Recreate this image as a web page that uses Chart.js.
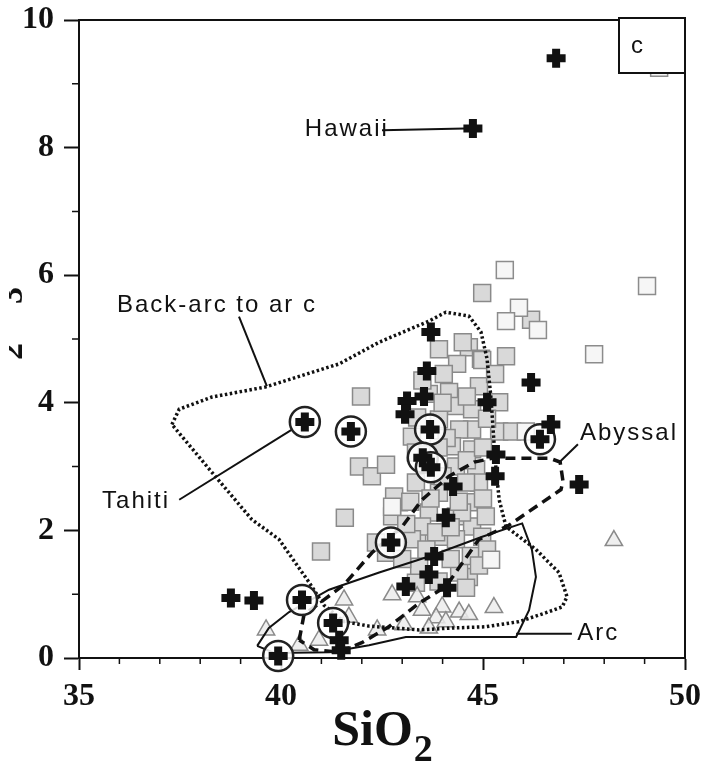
<!DOCTYPE html>
<html>
<head>
<meta charset="utf-8">
<script src="https://cdn.jsdelivr.net/npm/chart.js@4.4.1/dist/chart.umd.min.js"></script>
<style>
  html, body { margin: 0; padding: 0; background: #fff; }
  #wrap { width: 707px; height: 767px; }
</style>
</head>
<body>
<div id="wrap"><canvas id="chart" width="707" height="767"></canvas></div>
<script>
// SiO2 vs Al2O3 (wt%)

// black crosses
const crosses = [
  [46.81, 9.40], [44.75, 8.30], [43.71, 5.11], [43.61, 4.50], [43.12, 4.03],
  [43.54, 4.10], [43.07, 3.82], [45.10, 4.01], [46.19, 4.32], [46.68, 3.66],
  [45.32, 3.19], [45.30, 2.85], [44.26, 2.69], [44.08, 2.20], [47.38, 2.72],
  [43.79, 1.59], [43.66, 1.31], [43.09, 1.12], [44.11, 1.10], [38.76, 0.94],
  [39.33, 0.90], [41.44, 0.28], [41.49, 0.12]
];

// crosses with a ring round them
const circledCrosses = [
  [40.59, 3.70], [41.73, 3.55], [43.69, 3.58], [43.51, 3.14], [43.71, 2.99],
  [46.41, 3.43], [42.72, 1.81], [40.52, 0.91], [41.29, 0.55], [39.93, 0.03]
];

// grey filled squares
const greySquares = [
  [44.98, 5.72], [44.65, 4.87], [44.36, 4.61], [44.95, 4.69], [45.57, 4.73],
  [44.16, 4.17], [44.90, 4.26], [45.40, 4.01], [44.33, 3.95], [44.73, 3.90],
  [44.73, 3.58], [45.40, 3.55], [45.72, 3.55], [43.24, 3.47], [44.41, 3.58],
  [44.23, 3.32], [44.73, 3.27], [44.83, 2.96], [44.33, 3.00], [44.90, 2.75],
  [43.34, 3.22], [44.58, 2.75], [43.34, 2.75], [43.91, 2.59], [44.65, 2.44],
  [43.66, 2.28], [44.33, 2.22], [43.37, 1.93], [43.99, 1.90], [44.73, 2.06],
  [45.07, 2.22], [42.92, 2.44], [42.75, 2.22], [43.49, 2.06], [43.84, 1.97],
  [44.48, 2.28], [43.24, 1.86], [44.33, 1.86], [44.98, 1.90], [44.65, 1.27],
  [43.42, 1.43], [44.41, 1.34], [43.34, 1.18], [44.58, 1.10], [42.35, 1.81],
  [41.98, 4.10], [41.93, 3.00], [42.25, 2.85], [42.60, 3.03], [42.80, 2.53],
  [46.19, 5.30], [44.98, 4.67], [43.91, 4.84], [44.03, 4.45], [43.66, 4.14],
  [43.91, 3.74], [43.37, 3.77], [43.61, 3.19], [41.58, 2.20], [40.99, 1.67],
  [43.50, 4.35], [44.00, 4.00], [44.60, 4.10], [45.10, 3.75], [44.10, 3.45],
  [43.90, 3.30], [44.60, 3.10], [45.00, 3.30], [44.00, 2.85], [44.40, 2.45],
  [43.70, 2.50], [45.00, 2.50], [44.20, 2.05], [43.20, 2.45], [43.60, 1.70],
  [44.70, 1.60], [44.20, 1.55], [45.10, 1.70], [43.90, 1.20], [44.90, 1.45],
  [44.50, 4.95], [45.30, 4.45], [43.10, 2.10], [42.60, 1.65], [43.00, 1.55]
];

// open squares (white, dotted edge)
const openSquares = [
  [45.54, 6.08], [45.89, 5.49], [45.57, 5.28], [46.36, 5.14], [47.75, 4.76],
  [49.06, 5.83], [46.06, 3.55], [49.36, 9.25], [45.20, 1.54], [42.75, 2.37]
];

// open triangles
const triangles = [
  [48.24, 1.84], [45.27, 0.79], [42.75, 0.99], [41.56, 0.91], [41.68, 0.64],
  [40.94, 0.28], [42.38, 0.44], [43.37, 0.96], [43.49, 0.75], [43.99, 0.80],
  [44.41, 0.72], [44.65, 0.68], [43.84, 0.63], [44.08, 0.57], [43.04, 0.52],
  [43.66, 0.47], [39.63, 0.44], [40.45, 0.20]
];

// field outlines
const backArcField = [
  [37.30, 3.66], [37.48, 3.90], [38.29, 4.09], [39.63, 4.25], [41.44, 4.61],
  [42.43, 4.95], [43.66, 5.28], [44.08, 5.42], [44.65, 5.36], [44.95, 5.11],
  [45.10, 4.69], [45.20, 4.06], [45.30, 3.11], [45.40, 2.48], [45.57, 2.06],
  [46.31, 1.70], [46.88, 1.34], [47.08, 0.96], [46.96, 0.80], [46.56, 0.71],
  [45.89, 0.57], [45.07, 0.49], [44.23, 0.47], [43.42, 0.44], [42.18, 0.50],
  [41.56, 0.57], [41.06, 0.83], [40.69, 1.19], [39.95, 1.86], [39.28, 2.17],
  [38.29, 2.91], [37.30, 3.66]
];
const abyssalField = [
  [40.45, 0.28], [40.57, 0.68], [41.06, 0.91], [41.56, 1.15], [42.25, 1.65],
  [43.00, 2.06], [43.49, 2.48], [44.16, 2.85], [44.78, 3.07], [45.22, 3.13],
  [46.66, 3.13], [46.91, 3.07], [46.98, 2.77], [46.93, 2.64], [45.64, 2.08],
  [44.90, 1.86], [44.08, 1.12], [43.42, 0.86], [42.67, 0.49], [42.00, 0.24],
  [41.44, 0.09], [40.82, 0.13], [40.45, 0.28]
];
const arcField = [
  [39.41, 0.19], [39.70, 0.47], [40.20, 0.72], [41.19, 1.07], [42.43, 1.34],
  [43.66, 1.59], [44.98, 1.90], [45.97, 2.11], [46.21, 1.70], [46.31, 1.27],
  [46.14, 0.75], [45.82, 0.33], [43.09, 0.33], [42.18, 0.20], [41.19, 0.09],
  [39.83, 0.08], [39.41, 0.19]
];

// label leader lines
const leaderLines = [
  [[42.50, 8.27], [44.55, 8.30]],
  [[38.96, 5.35], [39.65, 4.26]],
  [[37.48, 2.48], [40.27, 3.58]],
  [[46.91, 3.08], [47.35, 3.35]],
  [[45.82, 0.38], [47.20, 0.38]]
];

// field / locality names, anchored at left-middle
const fieldLabels = [
  { text: 'Hawaii', x: 40.59, y: 8.29 },
  { text: 'Back-arc to ar c', x: 35.94, y: 5.52 },
  { text: 'Tahiti', x: 35.57, y: 2.45 },
  { text: 'Abyssal', x: 47.40, y: 3.52 },
  { text: 'Arc', x: 47.33, y: 0.38 }
];

const xMajor = 5;
const yMajor = 2;

const toXY = pts => pts.map(([x, y]) => ({ x, y }));

function outline(data, width, dash) {
  return {
    data: toXY(data), showLine: true, pointRadius: 0, fill: false,
    borderColor: '#111', borderWidth: width, borderDash: dash, clip: false
  };
}

// frame, panel box, minor ticks, axis titles and labels
const decor = {
  id: 'decor',
  afterDraw(chart) {
    const { ctx, chartArea: a, scales: { x, y } } = chart;
    ctx.save();

    // top and right frame
    ctx.strokeStyle = '#111';
    ctx.lineWidth = 2;
    ctx.beginPath();
    ctx.moveTo(a.left, a.top);
    ctx.lineTo(a.right, a.top);
    ctx.lineTo(a.right, a.bottom);
    ctx.stroke();

    // minor ticks
    ctx.lineWidth = 1.5;
    ctx.beginPath();
    for (let v = 36; v < 50; v++) {
      if (v % xMajor === 0) continue;
      const px = x.getPixelForValue(v);
      ctx.moveTo(px, a.bottom);
      ctx.lineTo(px, a.bottom + 6);
    }
    for (let v = 1; v < 10; v += 2) {
      const py = y.getPixelForValue(v);
      ctx.moveTo(a.left - 7, py);
      ctx.lineTo(a.left, py);
    }
    ctx.stroke();

    // panel letter box
    ctx.fillStyle = '#fff';
    ctx.lineWidth = 2;
    ctx.fillRect(a.right - 66, a.top - 2, 66, 55);
    ctx.strokeRect(a.right - 66, a.top - 2, 66, 55);
    ctx.fillStyle = '#111';
    ctx.font = '24px "Liberation Sans"';
    ctx.textBaseline = 'middle';
    ctx.fillText('c', a.right - 54, a.top + 26);

    // field labels
    ctx.font = '24px "Liberation Sans"';
    ctx.letterSpacing = '2px';
    ctx.textAlign = 'left';
    fieldLabels.forEach(l => {
      ctx.fillText(l.text, x.getPixelForValue(l.x), y.getPixelForValue(l.y));
    });
    ctx.letterSpacing = '0px';

    // x title SiO2
    ctx.textBaseline = 'alphabetic';
    ctx.font = 'bold 50px "Liberation Serif"';
    const w1 = ctx.measureText('SiO').width;
    ctx.font = 'bold 38px "Liberation Serif"';
    const w2 = ctx.measureText('2').width;
    const sx = (a.left + a.right) / 2 - (w1 + w2) / 2;
    ctx.font = 'bold 50px "Liberation Serif"';
    ctx.fillText('SiO', sx, 745);
    ctx.font = 'bold 38px "Liberation Serif"';
    ctx.fillText('2', sx + w1 + 1, 761);

    // y title Al2O3, mostly cut off by the left edge
    ctx.save();
    ctx.beginPath();
    ctx.rect(9, 0, 22, chart.height);
    ctx.clip();
    ctx.translate(8, 410);
    ctx.rotate(-Math.PI / 2);
    let cx = 0;
    const parts = [['Al', 50, 0], ['2', 34, 14], ['O', 50, 0], ['3', 34, 14]];
    parts.forEach(([t, size, shift]) => {
      ctx.font = 'bold ' + size + 'px "Liberation Serif"';
      ctx.fillText(t, cx, shift);
      cx += ctx.measureText(t).width;
    });
    ctx.restore();

    ctx.restore();
  }
};

const tickFont = { family: '"Liberation Serif"', size: 32, weight: 'bold' };

new Chart(document.getElementById('chart'), {
  type: 'scatter',
  data: {
    datasets: [
      {
        data: toXY(crosses.concat(circledCrosses)),
        pointStyle: 'cross', pointRadius: 9.5, borderWidth: 8,
        borderColor: '#111', backgroundColor: '#111', clip: false
      },
      {
        data: toXY(circledCrosses),
        pointStyle: 'circle', pointRadius: 15, borderWidth: 2.5,
        borderColor: '#222', backgroundColor: 'rgba(255,255,255,0.85)', clip: false
      },
      outline(arcField, 2, []),
      outline(abyssalField, 3.5, [10, 6]),
      outline(backArcField, 3.5, [2.5, 2.5]),
      ...leaderLines.map(l => outline(l, 2, [])),
      {
        data: toXY(triangles),
        pointStyle: 'triangle', pointRadius: 10, borderWidth: 1.5,
        borderColor: '#8a8a8a', backgroundColor: 'rgba(236,236,236,0.85)', clip: false
      },
      {
        data: toXY(openSquares),
        pointStyle: 'rect', pointRadius: 12, borderWidth: 1.5,
        borderColor: '#8c8c8c', backgroundColor: '#f6f6f6', clip: false
      },
      {
        data: toXY(greySquares),
        pointStyle: 'rect', pointRadius: 12, borderWidth: 1.5,
        borderColor: '#8a8a8a', backgroundColor: '#d9d9d9', clip: false
      }
    ]
  },
  options: {
    responsive: false,
    animation: false,
    events: [],
    layout: { padding: { top: 20, right: 22, left: 0, bottom: 0 } },
    plugins: { legend: { display: false }, tooltip: { enabled: false } },
    scales: {
      x: {
        type: 'linear', min: 35, max: 50,
        afterFit: s => { s.height = 109; s.paddingLeft = 0; s.paddingRight = 0; },
        border: { display: true, color: '#111', width: 2 },
        grid: {
          drawOnChartArea: false, drawTicks: true, tickLength: 12, tickWidth: 2,
          tickColor: c => (c.tick && c.tick.value % xMajor === 0) ? '#111' : 'rgba(0,0,0,0)'
        },
        ticks: {
          stepSize: 1, autoSkip: false, maxRotation: 0, padding: 8, color: '#111',
          font: tickFont, callback: v => (v % xMajor === 0 ? v : '')
        }
      },
      y: {
        type: 'linear', min: 0, max: 10,
        afterFit: s => { s.width = 79; s.paddingTop = 0; s.paddingBottom = 0; },
        border: { display: true, color: '#111', width: 2 },
        grid: {
          drawOnChartArea: false, drawTicks: true, tickLength: 15, tickWidth: 2,
          tickColor: c => (c.tick && c.tick.value % yMajor === 0) ? '#111' : 'rgba(0,0,0,0)'
        },
        ticks: {
          stepSize: 1, autoSkip: false, padding: 10, color: '#111',
          font: tickFont, callback: v => (v % yMajor === 0 ? v : '')
        }
      }
    }
  },
  plugins: [decor]
});
</script>
</body>
</html>
